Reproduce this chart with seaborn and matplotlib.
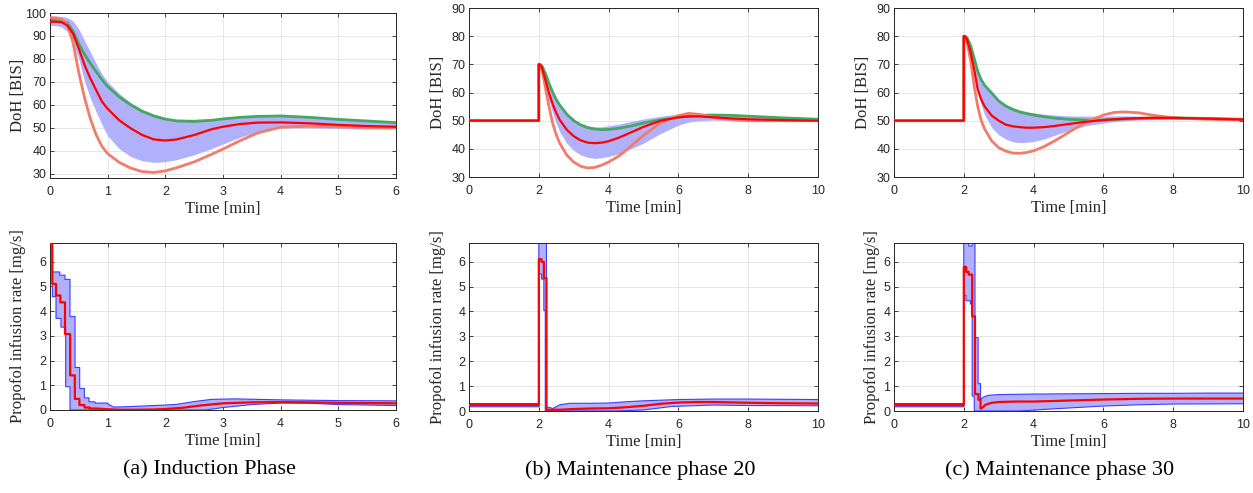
import matplotlib
matplotlib.use("Agg")
import matplotlib.pyplot as plt
import numpy as np
import seaborn as sns

# ---- depth of hypnosis (top row) ----
ind_t = [0, 0.1, 0.2, 0.3, 0.4, 0.5, 0.6, 0.7, 0.8, 0.9, 1.0, 1.2, 1.4, 1.6, 1.8,
         2.0, 2.2, 2.5, 2.8, 3.0, 3.3, 3.6, 4.0, 4.5, 5.0, 5.5, 6.0]
ind_red = [96.2, 96.2, 96.0, 94.6, 91.0, 84.5, 77.3, 71.5, 66.5, 61.5, 58.3, 53.3, 49.8,
           46.9, 45.0, 44.5, 45.0, 46.9, 49.4, 50.5, 51.7, 52.3, 52.4, 52.0, 51.3, 50.8, 50.5]
ind_green = [96.8, 96.8, 96.5, 95.7, 92.0, 86.5, 82.0, 78.0, 74.5, 71.0, 68.0, 63.5, 60.0,
             57.2, 55.2, 53.8, 53.0, 52.8, 53.3, 53.9, 54.6, 55.0, 55.2, 54.6, 53.7, 53.0, 52.3]
ind_salmon = [98.0, 97.8, 97.3, 95.0, 87.0, 74.0, 63.0, 54.0, 47.0, 42.0, 38.8, 35.0, 32.5,
              31.0, 30.6, 31.3, 32.7, 35.2, 38.5, 40.8, 44.5, 47.8, 50.3, 50.8, 50.5, 50.2, 50.1]
ind_hi = [98.7, 98.7, 98.5, 98.0, 96.5, 93.0, 88.0, 83.0, 78.0, 73.5, 70.0, 65.0, 61.0,
          58.0, 56.0, 54.5, 53.8, 53.8, 54.0, 54.3, 54.8, 55.1, 55.2, 54.7, 53.8, 53.0, 52.3]
ind_lo = [94.5, 94.5, 94.0, 92.0, 87.0, 80.0, 70.0, 63.0, 57.0, 51.5, 46.5, 41.0, 37.5,
          35.7, 35.0, 35.3, 36.2, 38.3, 41.0, 43.0, 46.0, 48.3, 50.0, 50.0, 49.7, 49.5, 49.5]

m_t = [0, 2.0, 2.0, 2.05, 2.1, 2.2, 2.3, 2.4, 2.5, 2.6, 2.8, 3.0, 3.2, 3.4, 3.6, 3.8,
       4.0, 4.3, 4.6, 5.0, 5.5, 6.0, 6.3, 6.6, 7.0, 7.5, 8.0, 9.0, 10.0]
m20_red = [50, 50, 70.0, 69.8, 68.5, 64.0, 59.5, 55.8, 52.8, 50.3, 46.8, 44.5, 43.0, 42.2,
           42.0, 42.2, 42.7, 44.0, 45.6, 47.8, 50.0, 51.2, 51.5, 51.5, 51.2, 50.8, 50.5, 50.2, 50.0]
m20_green = [50, 50, 70.0, 69.9, 69.2, 66.5, 63.0, 60.0, 57.5, 55.5, 52.3, 50.0, 48.5, 47.5,
             47.0, 46.8, 46.9, 47.3, 48.0, 49.2, 50.3, 51.2, 51.6, 51.9, 52.0, 51.9, 51.6, 51.0, 50.5]
m20_salmon = [50, 50, 70.0, 69.5, 67.5, 61.0, 54.5, 49.0, 45.0, 42.0, 37.8, 35.3, 33.8, 33.2,
              33.4, 34.2, 35.3, 37.5, 40.5, 44.8, 49.3, 51.8, 52.6, 52.2, 51.2, 50.4, 50.0, 50.0, 50.0]
m20_hi = [50, 50, 70.0, 69.9, 69.3, 66.8, 63.5, 60.5, 58.0, 56.0, 52.8, 50.5, 49.0, 48.2,
          47.8, 47.8, 48.2, 48.8, 49.6, 50.6, 51.6, 52.3, 52.5, 52.5, 52.3, 52.0, 51.7, 51.0, 50.6]
m20_lo = [50, 50, 70.0, 69.5, 68.0, 62.5, 57.0, 52.5, 49.0, 46.0, 42.0, 39.5, 37.8, 37.0,
          36.6, 36.8, 37.3, 38.3, 39.8, 42.0, 45.5, 48.4, 49.5, 50.0, 50.2, 50.0, 50.0, 50.0, 50.0]

m30_red = [50, 50, 80.0, 79.8, 78.5, 74.0, 68.0, 61.0, 57.5, 55.0, 51.8, 50.0, 48.6, 48.0,
           47.7, 47.5, 47.5, 47.7, 48.1, 48.8, 49.6, 50.2, 50.5, 50.7, 50.9, 51.0, 51.0, 50.7, 50.4]
m30_green = [50, 50, 80.0, 79.9, 79.3, 76.5, 72.0, 67.5, 64.5, 62.5, 59.8, 57.0, 55.2, 54.0,
             53.1, 52.5, 52.0, 51.4, 50.9, 50.5, 50.2, 50.2, 50.4, 50.6, 50.8, 51.0, 51.0, 50.8, 50.5]
m30_salmon = [50, 50, 80.0, 79.5, 77.5, 71.0, 62.0, 55.0, 50.0, 47.0, 42.8, 40.4, 39.2, 38.5,
              38.4, 38.7, 39.3, 40.8, 42.8, 45.8, 49.5, 52.0, 52.9, 53.1, 52.8, 51.8, 51.0, 50.5, 50.3]
m30_hi = [50, 50, 80.0, 79.9, 79.4, 77.0, 72.5, 68.0, 65.0, 63.0, 60.3, 57.6, 55.8, 54.6,
          53.8, 53.2, 52.8, 52.3, 52.0, 51.7, 51.6, 51.6, 51.7, 51.7, 51.6, 51.4, 51.2, 50.9, 50.6]
m30_lo = [50, 50, 80.0, 79.6, 78.0, 72.5, 66.0, 60.0, 55.5, 52.0, 47.5, 45.0, 43.5, 42.5,
          42.2, 42.3, 42.6, 43.5, 44.8, 46.5, 48.2, 49.2, 49.6, 49.9, 50.2, 50.4, 50.5, 50.5, 50.4]

# ---- propofol infusion (bottom row): zero-order-hold part + smooth tail ----
ind_u_red_st = [0, 0.04, 0.104, 0.18, 0.26, 0.35, 0.43, 0.51, 0.6, 0.69, 0.8]
ind_u_red_sv = [6.7, 5.1, 4.63, 4.35, 3.07, 1.4, 0.45, 0.2, 0.1, 0.06]
ind_u_red_tt = [0.8, 1.0, 1.2, 1.5, 1.8, 2.0, 2.3, 2.6, 3.0, 3.5, 4.0, 4.5, 5.0, 5.5, 6.0]
ind_u_red_tv = [0.06, 0.03, 0.01, 0.01, 0.02, 0.04, 0.09, 0.18, 0.27, 0.31, 0.32, 0.31, 0.29, 0.28, 0.27]
ind_u_hi_st = [0, 0.04, 0.17, 0.26, 0.347, 0.434, 0.515, 0.596, 0.677, 0.78, 1.0]
ind_u_hi_sv = [6.7, 5.58, 5.45, 5.28, 3.78, 1.72, 0.87, 0.49, 0.33, 0.28]
ind_u_hi_tt = [1.0, 1.1, 1.3, 1.6, 2.0, 2.2, 2.5, 2.8, 3.2, 3.6, 4.0, 5.0, 6.0]
ind_u_hi_tv = [0.25, 0.12, 0.13, 0.16, 0.2, 0.23, 0.34, 0.43, 0.45, 0.43, 0.41, 0.38, 0.37]
ind_u_lo_st = [0, 0.04, 0.104, 0.19, 0.272, 0.347]
ind_u_lo_sv = [6.7, 4.58, 3.7, 3.35, 0.94]
ind_u_lo_tt = [0.347, 1.0, 2.0, 2.7, 3.0, 3.5, 4.0, 4.5, 5.0, 5.5, 6.0]
ind_u_lo_tv = [0, 0, 0, 0, 0.1, 0.22, 0.28, 0.27, 0.22, 0.2, 0.18]

m20_u_red_st = [0, 2.0, 2.08, 2.145, 2.22, 2.6]
m20_u_red_sv = [0.24, 6.1, 5.99, 5.34, 0.05]
m20_u_red_tt = [2.6, 3.0, 3.5, 4.0, 4.5, 5.0, 5.5, 6.0, 6.5, 7.0, 8.0, 9.0, 10.0]
m20_u_red_tv = [0.05, 0.08, 0.1, 0.11, 0.15, 0.21, 0.29, 0.34, 0.36, 0.36, 0.33, 0.31, 0.3]
m20_u_hi_st = [0, 2.0, 2.22, 2.29]
m20_u_hi_sv = [0.3, 7.5, 0.15]
m20_u_hi_tt = [2.29, 2.4, 2.6, 2.9, 3.5, 4.0, 4.5, 5.0, 6.0, 7.0, 8.0, 9.0, 10.0]
m20_u_hi_tv = [0.15, 0.1, 0.25, 0.31, 0.31, 0.32, 0.37, 0.41, 0.46, 0.48, 0.48, 0.47, 0.46]
m20_u_lo_st = [0, 2.0, 2.08, 2.145, 2.185]
m20_u_lo_sv = [0.17, 5.5, 5.3, 4.04]
m20_u_lo_tt = [2.185, 3.0, 4.2, 5.0, 5.8, 7.0, 8.0, 10.0]
m20_u_lo_tv = [0, 0, 0, 0.04, 0.18, 0.24, 0.22, 0.21]

m30_u_red_st = [0, 2.0, 2.067, 2.14, 2.24, 2.32, 2.42, 2.48]
m30_u_red_sv = [0.24, 5.79, 5.59, 5.48, 3.8, 0.68, 0.45]
m30_u_red_tt = [2.48, 2.55, 2.62, 2.8, 3.0, 3.5, 4.0, 5.0, 6.0, 7.0, 8.0, 9.0, 10.0]
m30_u_red_tv = [0.1, 0.15, 0.25, 0.33, 0.36, 0.38, 0.38, 0.42, 0.46, 0.49, 0.5, 0.5, 0.5]
m30_u_hi_st = [0, 2.0, 2.14, 2.24, 2.32, 2.41, 2.48]
m30_u_hi_sv = [0.3, 7.5, 6.63, 7.5, 2.95, 1.1]
m30_u_hi_tt = [2.48, 2.55, 2.7, 3.0, 4.0, 5.0, 6.0, 7.0, 8.0, 9.0, 10.0]
m30_u_hi_tv = [0.45, 0.55, 0.63, 0.66, 0.68, 0.69, 0.7, 0.71, 0.71, 0.72, 0.72]
m30_u_lo_st = [0, 2.0, 2.06, 2.19, 2.24, 2.3]
m30_u_lo_sv = [0.17, 4.65, 4.43, 4.3, 0.6]
m30_u_lo_tt = [2.3, 3.0, 3.6, 4.5, 6.0, 7.0, 8.0, 10.0]
m30_u_lo_tv = [0, 0, 0, 0.08, 0.2, 0.25, 0.28, 0.29]

captions = ["(a) Induction Phase", "(b) Maintenance phase 20", "(c) Maintenance phase 30"]

BAND = "#b1b1fb"
EDGE = "#3c3cff"
GREEN = "#45a862"
SALMON = "#f27b6c"
RED = "#ff0000"
INK = "#262626"
W, H = 1253, 493


def stair_path(st, sv, tt, tv):
    x, y = [], []
    for i, v in enumerate(sv):
        x += [st[i], st[i + 1]]
        y += [v, v]
    return np.array(x + list(tt)), np.array(y + list(tv))


def style_axes(ax, xlim, xticks, ylim, yticks, ylabel, ylab_x):
    ax.set_xlim(*xlim)
    ax.set_ylim(*ylim)
    ax.set_xticks(xticks)
    ax.set_yticks(yticks)
    ax.grid(True, color="#e2e2e2", linewidth=0.6)
    ax.set_axisbelow(True)
    ax.tick_params(direction="in", length=3, width=0.6, top=True, right=True,
                   colors=INK, labelsize=9)
    ax.tick_params(axis="x", pad=6)
    ax.tick_params(axis="y", pad=2.5)
    for lab in ax.get_xticklabels() + ax.get_yticklabels():
        lab.set_family("Liberation Sans")
    for sp in ax.spines.values():
        sp.set_visible(True)
        sp.set_color(INK)
        sp.set_linewidth(0.7)
    ax.set_xlabel("Time [min]", family="Liberation Serif", fontsize=12, color=INK)
    ax.set_ylabel(ylabel, family="Liberation Serif", fontsize=12, color=INK)
    ax.xaxis.set_label_coords(0.5, -0.185)
    ax.xaxis.label.set_verticalalignment("center")
    ax.yaxis.set_label_coords(ylab_x, 0.5)
    ax.yaxis.label.set_verticalalignment("center")


def line(ax, x, y, color, lw, z):
    sns.lineplot(x=x, y=y, ax=ax, color=color, linewidth=lw, sort=False,
                 estimator=None, zorder=z, legend=False)


sns.set_theme(style="ticks")
plt.rcParams["font.family"] = ["Liberation Sans", "DejaVu Sans"]

fig = plt.figure(figsize=(W / 100, H / 100), dpi=100)


def add_ax(l, r, t, b):
    return fig.add_axes([l / W, 1 - b / H, (r - l) / W, (b - t) / H])


top_boxes = [(50, 396, 13, 178), (469, 818, 8, 177), (894, 1243, 8, 177)]
bot_boxes = [(50, 396, 243, 410), (469, 818, 243, 411), (894, 1243, 243, 411)]

top_data = [
    (ind_t, ind_hi, ind_lo, ind_green, ind_salmon, ind_red),
    (m_t, m20_hi, m20_lo, m20_green, m20_salmon, m20_red),
    (m_t, m30_hi, m30_lo, m30_green, m30_salmon, m30_red),
]
top_lims = [((0, 6), range(0, 7), (28.2, 100), range(30, 101, 10)),
            ((0, 10), range(0, 11, 2), (30, 90), range(30, 91, 10)),
            ((0, 10), range(0, 11, 2), (30, 90), range(30, 91, 10))]
top_ylab_x = [-0.092, -0.089, -0.089]

for box, data, lims, yx in zip(top_boxes, top_data, top_lims, top_ylab_x):
    ax = add_ax(*box)
    t, hi, lo, gr, sa, rd = data
    ax.fill_between(t, lo, hi, color=BAND, linewidth=0, zorder=1)
    line(ax, t, gr, GREEN, 2.0, 2)
    line(ax, t, sa, SALMON, 2.0, 3)
    line(ax, t, rd, RED, 1.6, 4)
    style_axes(ax, lims[0], lims[1], lims[2], lims[3], "DoH [BIS]", yx)

bot_data = [
    ((ind_u_hi_st, ind_u_hi_sv, ind_u_hi_tt, ind_u_hi_tv),
     (ind_u_lo_st, ind_u_lo_sv, ind_u_lo_tt, ind_u_lo_tv),
     (ind_u_red_st, ind_u_red_sv, ind_u_red_tt, ind_u_red_tv)),
    ((m20_u_hi_st, m20_u_hi_sv, m20_u_hi_tt, m20_u_hi_tv),
     (m20_u_lo_st, m20_u_lo_sv, m20_u_lo_tt, m20_u_lo_tv),
     (m20_u_red_st, m20_u_red_sv, m20_u_red_tt, m20_u_red_tv)),
    ((m30_u_hi_st, m30_u_hi_sv, m30_u_hi_tt, m30_u_hi_tv),
     (m30_u_lo_st, m30_u_lo_sv, m30_u_lo_tt, m30_u_lo_tv),
     (m30_u_red_st, m30_u_red_sv, m30_u_red_tt, m30_u_red_tv)),
]
bot_x = [((0, 6), range(0, 7)), ((0, 10), range(0, 11, 2)), ((0, 10), range(0, 11, 2))]
bot_ylab_x = [-0.092, -0.089, -0.064]

for box, (hi, lo, rd), xl, yx in zip(bot_boxes, bot_data, bot_x, bot_ylab_x):
    ax = add_ax(*box)
    hx, hy = stair_path(*hi)
    lx, ly = stair_path(*lo)
    rx, ry = stair_path(*rd)
    ax.fill(np.r_[hx, lx[::-1]], np.r_[hy, ly[::-1]], color=BAND, linewidth=0, zorder=1)
    line(ax, hx, hy, EDGE, 0.8, 2)
    line(ax, lx, ly, EDGE, 0.8, 2)
    line(ax, rx, ry, RED, 1.6, 4)
    style_axes(ax, xl[0], xl[1], (0, 6.75), range(0, 7),
               "Propofol infusion rate [mg/s]", yx)

cap_x = [209, 640, 1060]
for cx, txt in zip(cap_x, captions):
    fig.text(cx / W, 1 - 470 / H, txt, ha="center", va="center",
             family="Liberation Serif", fontsize=16, color="black")

fig.savefig("out.png", dpi=100)
